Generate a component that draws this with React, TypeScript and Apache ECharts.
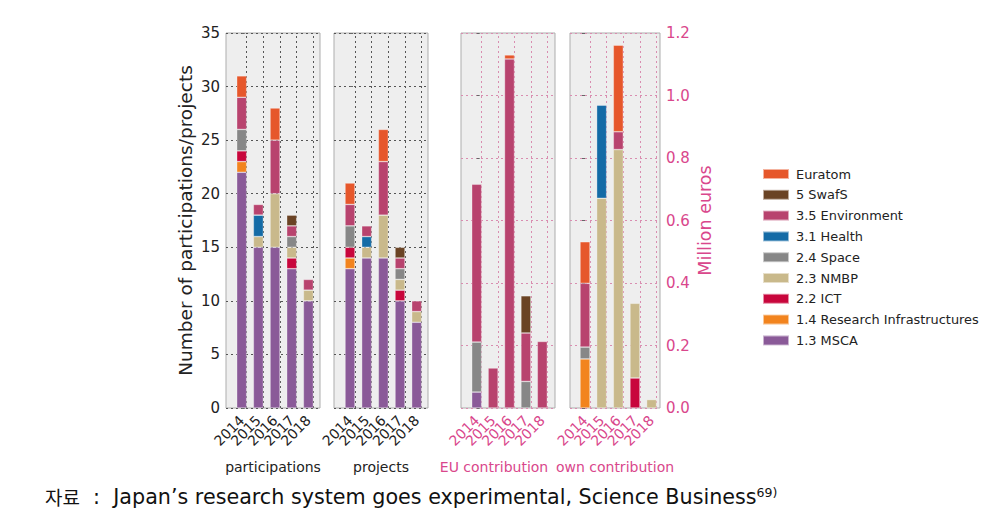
import React, { useEffect, useRef } from "react";
import * as echarts from "echarts";

const years = ["2014", "2015", "2016", "2017", "2018"];

// stacking order bottom -> top
const seriesNames = [
  "1.3 MSCA",
  "1.4 Research Infrastructures",
  "2.2 ICT",
  "2.3 NMBP",
  "2.4 Space",
  "3.1 Health",
  "3.5 Environment",
  "5 SwafS",
  "Euratom",
];
const legendOrder = [
  "Euratom",
  "5 SwafS",
  "3.5 Environment",
  "3.1 Health",
  "2.4 Space",
  "2.3 NMBP",
  "2.2 ICT",
  "1.4 Research Infrastructures",
  "1.3 MSCA",
];
const seriesColors: Record<string, string> = {
  "1.3 MSCA": "#8A5A98",
  "1.4 Research Infrastructures": "#F2841E",
  "2.2 ICT": "#C8063C",
  "2.3 NMBP": "#C9B98B",
  "2.4 Space": "#878787",
  "3.1 Health": "#146BA6",
  "3.5 Environment": "#B8436E",
  "5 SwafS": "#6A4324",
  "Euratom": "#E6572B",
};

type V = number | null;
// participations (count)
const participations: Record<string, V[]> = {
  "1.3 MSCA": [22, 15, 15, 13, 10],
  "1.4 Research Infrastructures": [1, null, null, null, null],
  "2.2 ICT": [1, null, null, 1, null],
  "2.3 NMBP": [null, 1, 5, 1, 1],
  "2.4 Space": [2, null, null, 1, null],
  "3.1 Health": [null, 2, null, null, null],
  "3.5 Environment": [3, 1, 5, 1, 1],
  "5 SwafS": [null, null, null, 1, null],
  "Euratom": [2, null, 3, null, null],
};
// projects (count)
const projects: Record<string, V[]> = {
  "1.3 MSCA": [13, 14, 14, 10, 8],
  "1.4 Research Infrastructures": [1, null, null, null, null],
  "2.2 ICT": [1, null, null, 1, null],
  "2.3 NMBP": [null, 1, 4, 1, 1],
  "2.4 Space": [2, null, null, 1, null],
  "3.1 Health": [null, 1, null, null, null],
  "3.5 Environment": [2, 1, 5, 1, 1],
  "5 SwafS": [null, null, null, 1, null],
  "Euratom": [2, null, 3, null, null],
};
// EU contribution (million euros)
const euContribution: Record<string, V[]> = {
  "1.3 MSCA": [0.051, null, null, null, null],
  "1.4 Research Infrastructures": [null, null, null, null, null],
  "2.2 ICT": [null, null, null, null, null],
  "2.3 NMBP": [null, null, null, null, null],
  "2.4 Space": [0.16, null, null, 0.085, null],
  "3.1 Health": [null, null, null, null, null],
  "3.5 Environment": [0.505, 0.128, 1.117, 0.155, 0.213],
  "5 SwafS": [null, null, null, 0.119, null],
  "Euratom": [null, null, 0.013, null, null],
};
// own contribution (million euros)
const ownContribution: Record<string, V[]> = {
  "1.3 MSCA": [null, null, null, null, null],
  "1.4 Research Infrastructures": [0.157, null, null, null, null],
  "2.2 ICT": [null, null, null, 0.096, null],
  "2.3 NMBP": [null, 0.671, 0.827, 0.239, 0.027],
  "2.4 Space": [0.038, null, null, null, null],
  "3.1 Health": [null, 0.298, null, null, null],
  "3.5 Environment": [0.204, null, 0.057, null, null],
  "5 SwafS": [null, null, null, null, null],
  "Euratom": [0.133, null, 0.277, null, null],
};

const panelTitles = ["participations", "projects", "EU contribution", "own contribution"];
const countTicks = { min: 0, max: 35, interval: 5 };
const euroTicks = { min: 0, max: 1.2, interval: 0.2 };

const PINK = "#D9478C";
const PINK_GRID = "#D98DB0";
const DARK = "#222222";
const FONT = "DejaVu Sans";

export default function App() {
  const ref = useRef<HTMLDivElement>(null);
  useEffect(() => {
    if (!ref.current) return;
    const chart = echarts.init(ref.current, undefined, { renderer: "svg" });

    // panel geometry (pixels)
    const panels = [
      { data: participations, left: 226, width: 94, first: 15.7, step: 16.67, euro: false, titlePad: 0 },
      { data: projects, left: 334, width: 94, first: 16, step: 16.67, euro: false, titlePad: 0 },
      { data: euContribution, left: 461, width: 94, first: 15.7, step: 16.4, euro: true, titlePad: 28 },
      { data: ownContribution, left: 570, width: 90, first: 15, step: 16.65, euro: true, titlePad: 0 },
    ];
    const top = 33;
    const height = 375;
    const N = panels.length;

    const grid: any[] = [];
    const xAxis: any[] = [];
    const yAxis: any[] = [];
    const series: any[] = [];

    // background panels (frame, grid lines, y labels, titles)
    panels.forEach((p, i) => {
      const t = p.euro ? euroTicks : countTicks;
      const gridColor = p.euro ? PINK_GRID : "#555";
      grid.push({
        left: p.left,
        width: p.width,
        top,
        height,
        show: true,
        backgroundColor: "#EEEEEE",
        borderColor: "#ADADAD",
        borderWidth: 1,
      });
      xAxis.push({
        type: "value",
        gridIndex: i,
        min: -p.first / p.step,
        max: (p.width - p.first) / p.step,
        splitLine: { show: false },
        axisLine: { show: false },
        axisTick: { show: false },
        axisLabel: { show: false },
        name: panelTitles[i],
        nameLocation: "middle",
        nameGap: 52,
        nameTextStyle: {
          fontSize: 14,
          fontFamily: FONT,
          color: p.euro ? PINK : DARK,
          padding: [0, p.titlePad, 0, 0],
        },
      });
      const showLabels = i === 0 || i === 3;
      yAxis.push({
        type: "value",
        gridIndex: i,
        min: t.min,
        max: t.max,
        interval: t.interval,
        position: i === 3 ? "right" : "left",
        axisLine: { show: false },
        axisTick: { show: true, inside: true, length: 3, lineStyle: { color: "#666" } },
        splitLine: { show: true, lineStyle: { type: [2, 3], color: gridColor, width: 1 } },
        axisLabel: {
          show: showLabels,
          fontSize: 15,
          fontFamily: FONT,
          color: p.euro ? PINK : DARK,
          margin: 6,
          formatter: p.euro ? (v: number) => v.toFixed(1) : (v: number) => String(v),
        },
        name: i === 0 ? "Number of participations/projects" : i === 3 ? "Million euros" : "",
        nameLocation: "middle",
        nameGap: i === 0 ? 31 : 36,
        nameRotate: i === 3 ? 90 : undefined,
        nameTextStyle: { fontSize: i === 0 ? 18.5 : 17.5, fontFamily: FONT, color: p.euro ? PINK : DARK },
      });
      series.push({
        type: "line",
        name: "grid" + i,
        xAxisIndex: i,
        yAxisIndex: i,
        data: [],
        z: 1,
        silent: true,
        markLine: {
          silent: true,
          symbol: "none",
          z: 1,
          label: { show: false },
          lineStyle: { type: [2, 3], color: gridColor, width: 1 },
          data: years.map((_, k) => ({ xAxis: k + 5 / p.step })),
        },
      });
    });

    // bar grids (category axes aligned with the bars)
    panels.forEach((p, i) => {
      const gi = N + i;
      const t = p.euro ? euroTicks : countTicks;
      grid.push({
        left: p.left + p.first - p.step / 2,
        width: p.step * years.length,
        top,
        height,
        show: false,
      });
      xAxis.push({
        type: "category",
        gridIndex: gi,
        data: years,
        boundaryGap: true,
        axisLine: { show: false },
        axisTick: { show: false },
        splitLine: { show: false },
        axisLabel: {
          interval: 0,
          hideOverlap: false,
          rotate: 45,
          fontSize: 14,
          fontFamily: FONT,
          color: p.euro ? PINK : DARK,
          margin: 10,
        },
      });
      yAxis.push({
        type: "value",
        gridIndex: gi,
        min: t.min,
        max: t.max,
        interval: t.interval,
        show: false,
      });
      seriesNames.forEach((name) => {
        series.push({
          type: "bar",
          name,
          xAxisIndex: gi,
          yAxisIndex: gi,
          stack: "panel" + i,
          barWidth: 10,
          z: 3,
          itemStyle: {
            color: seriesColors[name],
            borderColor: "rgba(255,255,255,0.55)",
            borderWidth: 0.6,
          },
          data: p.data[name],
        });
      });
    });

    chart.setOption({
      animation: false,
      textStyle: { fontFamily: FONT },
      grid,
      xAxis,
      yAxis,
      legend: {
        orient: "vertical",
        left: 757,
        top: 162,
        data: legendOrder,
        icon: "rect",
        itemWidth: 26,
        itemHeight: 10,
        itemGap: 6.8,
        textStyle: { fontSize: 12.9, lineHeight: 14, fontFamily: FONT, color: DARK, padding: [0, 0, 0, 2] },
      },
      graphic: [
        {
          type: "text",
          left: 45,
          top: 486,
          style: {
            text: "{k|자료}{m|  :  Japan’s research system goes experimental, Science Business}{s|69)}",
            rich: {
              k: { fontSize: 19, fontFamily: "Noto Sans CJK KR", fill: "#111" },
              m: { fontSize: 20.7, fontFamily: "DejaVu Sans", fill: "#111" },
              s: { fontSize: 12.5, fontFamily: "DejaVu Sans", fill: "#111", verticalAlign: "top", padding: [0, 0, 8, 0] },
            },
          },
        },
      ],
      series,
    });
    return () => chart.dispose();
  }, []);
  return (
    <div
      ref={ref}
      style={{ position: "fixed", left: 0, top: 0, width: 996, height: 517, background: "#fff" }}
    />
  );
}
